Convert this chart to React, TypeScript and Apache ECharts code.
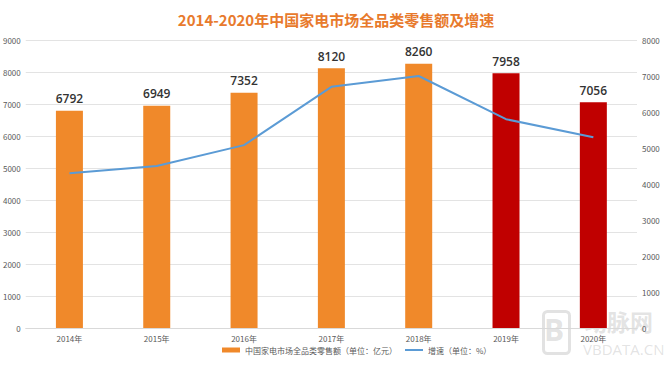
import React, { useEffect, useRef } from "react";
import * as echarts from "echarts";

const categories = ["2014年", "2015年", "2016年", "2017年", "2018年", "2019年", "2020年"];
const salesValues = [6792, 6949, 7352, 8120, 8260, 7958, 7056];
const growthValues = [4300, 4500, 5080, 6700, 7000, 5800, 5300];
const barColors = ["#F0892A", "#F0892A", "#F0892A", "#F0892A", "#F0892A", "#C00000", "#C00000"];
const salesName = "中国家电市场全品类零售额（单位：亿元）";
const growthName = "增速（单位：%）";
const titleText = "2014-2020年中国家电市场全品类零售额及增速";

export default function App() {
  const ref = useRef<HTMLDivElement>(null);
  useEffect(() => {
    if (!ref.current) return;
    const chart = echarts.init(ref.current, null, { renderer: "svg" });
    const font = "'Microsoft YaHei', 'Noto Sans CJK SC', 'Noto Sans', sans-serif";
    const wm = "rgba(160,160,160,0.3)";
    chart.setOption({
      animation: false,
      backgroundColor: "#ffffff",
      title: {
        text: titleText,
        left: "center",
        top: 7,
        textStyle: { color: "#E87A2C", fontSize: 15, fontWeight: "bold", fontFamily: font },
      },
      grid: { left: 22, right: 35, top: 40, bottom: 41, containLabel: false },
      legend: {
        bottom: 10,
        left: 217,
        itemWidth: 18,
        itemHeight: 5,
        itemGap: 8,
        textStyle: { fontSize: 8, color: "#595959", fontFamily: font },
        data: [
          { name: salesName, icon: "rect", itemStyle: { color: "#F0892A" } },
          { name: growthName, icon: "path://M0,0 L18,0 L18,2 L0,2 Z", itemStyle: { color: "#5B9BD5" } },
        ],
      },
      xAxis: {
        type: "category",
        data: categories,
        axisTick: { show: false },
        axisLine: { lineStyle: { color: "#D9D9D9" } },
        axisLabel: { fontSize: 8, color: "#595959", margin: 6, fontFamily: font },
      },
      yAxis: [
        {
          type: "value",
          min: 0,
          max: 9000,
          interval: 1000,
          axisLabel: { fontSize: 8, color: "#595959", margin: 5, fontFamily: font, formatter: (v: number) => String(v) },
          splitLine: { lineStyle: { color: "#E3E3E3" } },
          axisLine: { show: false },
          axisTick: { show: false },
        },
        {
          type: "value",
          min: 0,
          max: 8000,
          interval: 1000,
          position: "right",
          axisLabel: { fontSize: 8, color: "#595959", margin: 5, fontFamily: font, formatter: (v: number) => String(v) },
          splitLine: { show: false },
          axisLine: { show: false },
          axisTick: { show: false },
        },
      ],
      series: [
        {
          name: salesName,
          type: "bar",
          yAxisIndex: 0,
          barWidth: 27,
          data: salesValues.map((v, i) => ({ value: v, itemStyle: { color: barColors[i] } })),
          itemStyle: { color: "#F0892A" },
          label: {
            show: true,
            position: "top",
            distance: 6,
            fontSize: 12,
            fontWeight: 600,
            color: "#333333",
            fontFamily: "'Open Sans', sans-serif",
          },
        },
        {
          name: growthName,
          type: "line",
          yAxisIndex: 1,
          data: growthValues,
          symbol: "none",
          lineStyle: { color: "#5B9BD5", width: 2 },
          itemStyle: { color: "#5B9BD5" },
        },
      ],
      graphic: [
        {
          type: "rect",
          left: 541,
          top: 309,
          shape: { width: 26, height: 42, r: 4 },
          style: { fill: "none", stroke: wm, lineWidth: 3 },
        },
        {
          type: "text",
          left: 544,
          top: 314,
          style: { text: "B", fontSize: 30, fontWeight: "bold", fill: wm, fontFamily: "'Open Sans', sans-serif" },
        },
        {
          type: "text",
          left: 584,
          top: 309,
          style: { text: "动脉网", fontSize: 23, fontWeight: "bold", fill: wm, fontFamily: font },
        },
        {
          type: "text",
          left: 583,
          top: 341,
          style: { text: "VBDATA.CN", fontSize: 15, fill: wm, fontFamily: "'Open Sans', sans-serif" },
        },
      ],
    });
    return () => chart.dispose();
  }, []);
  return <div ref={ref} style={{ position: "absolute", left: 0, top: 0, width: 672, height: 369 }} />;
}
